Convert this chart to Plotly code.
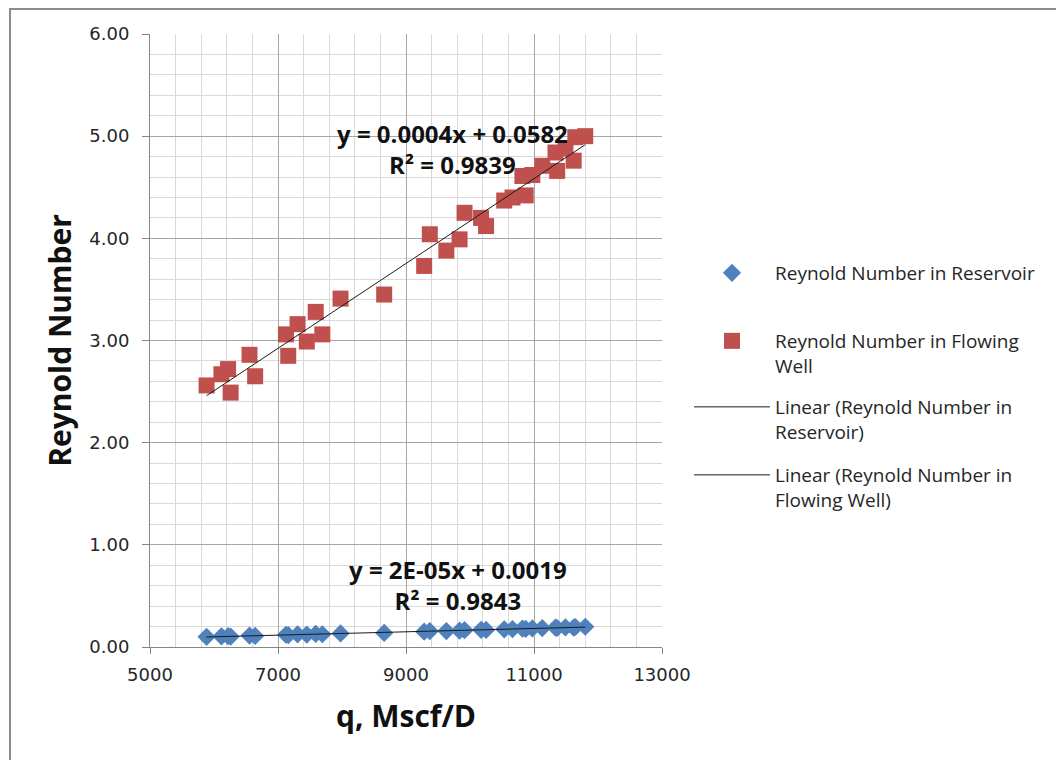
import numpy as np
import plotly.graph_objects as go

# Gas rate, Mscf/D
q = [5884, 6116, 6220, 6260, 6555, 6643, 7124, 7160, 7306, 7450, 7589,
     7693, 7977, 8659, 9284, 9372, 9631, 9837, 9915, 10173, 10251, 10535,
     10664, 10870, 10819, 10974, 11129, 11362, 11336, 11491, 11620, 11646, 11801]

# Reynolds number in the flowing well
re_well = [2.56, 2.67, 2.72, 2.49, 2.86, 2.65, 3.06, 2.85, 3.16, 2.99, 3.28,
           3.06, 3.41, 3.45, 3.73, 4.04, 3.88, 3.99, 4.25, 4.20, 4.12, 4.37,
           4.40, 4.42, 4.61, 4.62, 4.71, 4.66, 4.84, 4.88, 4.76, 4.99, 5.00]

# Reynolds number in the reservoir
re_res = [0.100, 0.104, 0.106, 0.102, 0.112, 0.108, 0.120, 0.116, 0.124, 0.122, 0.128,
          0.125, 0.133, 0.138, 0.150, 0.155, 0.156, 0.160, 0.165, 0.168, 0.167, 0.173,
          0.175, 0.178, 0.180, 0.182, 0.185, 0.186, 0.190, 0.192, 0.190, 0.196, 0.198]

x_ticks = [5000, 7000, 9000, 11000, 13000]
x_tick_text = ["5000", "7000", "9000", "11000", "13000"]
y_ticks = [0, 1, 2, 3, 4, 5, 6]
y_tick_text = ["0.00", "1.00", "2.00", "3.00", "4.00", "5.00", "6.00"]

eq_res = ["y = 2E-05x + 0.0019", "R² = 0.9843"]
eq_well = ["y = 0.0004x + 0.0582", "R² = 0.9839"]

BLUE = "#4F81BD"
RED = "#C0504D"
TXT = "#262626"


def trend(xs, ys):
    k, b = np.polyfit(xs, ys, 1)
    xe = np.array([min(xs), max(xs)])
    return xe, k * xe + b


fig = go.Figure()

fig.add_trace(go.Scatter(
    x=q, y=re_res, mode="markers", name="Reynold Number in Reservoir",
    marker=dict(symbol="diamond", size=14, color=BLUE, line=dict(width=0)),
    legend="legend"))
fig.add_trace(go.Scatter(
    x=q, y=re_well, mode="markers", name="Reynold Number in Flowing<br>Well",
    marker=dict(symbol="square", size=16, color=RED, line=dict(width=0)),
    legend="legend2"))

tx, ty = trend(q, re_res)
fig.add_trace(go.Scatter(
    x=tx, y=ty, mode="lines", name="Linear (Reynold Number in<br>Reservoir)",
    line=dict(color="#1a1a1a", width=1), legend="legend3"))
tx, ty = trend(q, re_well)
fig.add_trace(go.Scatter(
    x=tx, y=ty, mode="lines", name="Linear (Reynold Number in<br>Flowing Well)",
    line=dict(color="#1a1a1a", width=1), legend="legend4"))

# trendline equations, two lines each
ann_font = dict(family="Open Sans", size=24, color="#111111", weight="bold")
for lines, xx, yy in [(eq_well, 9719, 4.875), (eq_res, 9812, 0.605)]:
    fig.add_annotation(x=xx, y=yy, xref="x", yref="y", text="<br>".join(lines),
                       showarrow=False, font=ann_font, align="center",
                       xanchor="center", yanchor="middle")

leg_font = dict(family="Open Sans", size=19, color=TXT)
leg_common = dict(xanchor="left", yanchor="top", valign="top", font=leg_font,
                  bgcolor="rgba(0,0,0,0)", borderwidth=0, itemwidth=76)
lx = (689 - 150) / 512
fig.update_layout(
    legend=dict(x=lx, y=(647 - 254) / 613, **leg_common),
    legend2=dict(x=lx, y=(647 - 322) / 613, **leg_common),
    legend3=dict(x=lx, y=(647 - 388) / 613, **leg_common),
    legend4=dict(x=lx, y=(647 - 456) / 613, **leg_common),
)

fig.update_xaxes(
    range=[5000, 13000], tickvals=x_ticks, ticktext=x_tick_text, ticks="outside",
    ticklen=6, tickcolor="#868686", showline=True, linecolor="#868686", linewidth=1,
    showgrid=True, gridcolor="#a6a6a6", gridwidth=1, zeroline=False,
    minor=dict(tick0=5000, dtick=400, showgrid=True, gridcolor="#d9d9d9", ticks=""),
    tickfont=dict(family="DejaVu Sans", size=18, color=TXT), ticklabelstandoff=5,
    title=dict(text="q, Mscf/D", standoff=22,
               font=dict(family="Open Sans", size=30, color="#111111", weight="bold")),
)
fig.update_yaxes(
    range=[0, 6], tickvals=y_ticks, ticktext=y_tick_text, ticks="outside", ticklen=7,
    tickcolor="#868686", showline=True, linecolor="#868686", linewidth=1,
    showgrid=True, gridcolor="#a6a6a6", gridwidth=1, zeroline=False,
    minor=dict(tick0=0, dtick=0.2, showgrid=True, gridcolor="#d9d9d9", ticks=""),
    tickfont=dict(family="DejaVu Sans", size=18, color=TXT), ticklabelstandoff=9,
    title=dict(text="Reynold Number", standoff=8,
               font=dict(family="Open Sans", size=30, color="#111111", weight="bold")),
)

# outer chart frame
fig.add_shape(type="rect", xref="paper", yref="paper",
              x0=(10 - 150) / 512, x1=1.9, y0=-0.4, y1=(647 - 9) / 613,
              line=dict(color="#8c8c8c", width=2), fillcolor="rgba(0,0,0,0)", layer="below")

fig.update_layout(
    width=1056, height=760,
    margin=dict(l=150, r=394, t=34, b=113),
    paper_bgcolor="white", plot_bgcolor="white",
    showlegend=True,
)

fig.write_html("out.html")
